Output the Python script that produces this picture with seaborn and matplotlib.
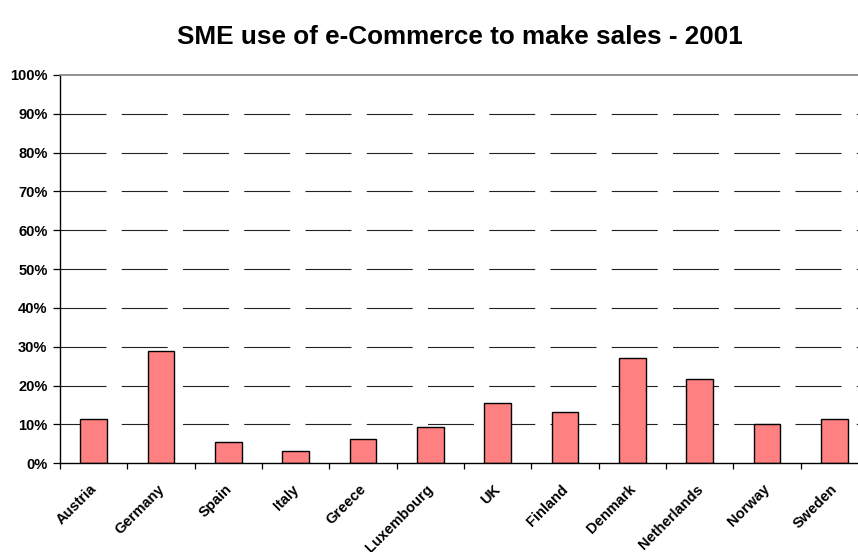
import matplotlib
matplotlib.use("Agg")
import matplotlib.pyplot as plt
import matplotlib.transforms as mtransforms
import seaborn as sns
import pandas as pd
from matplotlib.ticker import FixedLocator, PercentFormatter

countries = ["Austria", "Germany", "Spain", "Italy", "Greece", "Luxembourg",
             "UK", "Finland", "Denmark", "Netherlands", "Norway", "Sweden"]
share_pct = [11.3, 29.0, 5.6, 3.2, 6.3, 9.3, 15.5, 13.1, 27.1, 21.8, 10.0, 11.3]
y_ticks = [0, 10, 20, 30, 40, 50, 60, 70, 80, 90, 100]

df = pd.DataFrame({"country": countries, "share": share_pct})

sns.set_theme(style="white")
plt.rcParams["font.family"] = ["Liberation Sans", "DejaVu Sans"]
plt.rcParams["lines.scale_dashes"] = False
plt.rcParams["text.color"] = "black"
plt.rcParams["xtick.color"] = "black"
plt.rcParams["ytick.color"] = "black"
plt.rcParams["xtick.labelcolor"] = "black"
plt.rcParams["ytick.labelcolor"] = "black"

fig = plt.figure(figsize=(8.58, 5.52), dpi=100)
ax = fig.add_axes([60 / 858, 88.7 / 552, 808 / 858, 388.3 / 552])

# dashed horizontal gridlines below the bars
for t in y_ticks[1:-1]:
    ax.axhline(t, color="#222222", lw=0.8, linestyle=(0, (33.1, 11.0)), zorder=0)

sns.barplot(data=df, x="country", y="share", color="#FF8080", saturation=1,
            width=0.4, edgecolor="black", linewidth=1.0, ax=ax, zorder=2)

ax.set_xlim(-0.5, len(countries) - 0.5)
ax.set_ylim(0, 100)
ax.set_yticks(y_ticks)
ax.yaxis.set_major_formatter(PercentFormatter(decimals=0))
ax.set_xlabel("")
ax.set_ylabel("")

ax.xaxis.set_minor_locator(FixedLocator([i - 0.5 for i in range(len(countries) + 1)]))
ax.tick_params(axis="x", which="major", length=0, pad=13.5)
ax.tick_params(axis="x", which="minor", length=4, width=0.9, color="black",
               direction="out", bottom=True)
ax.tick_params(axis="y", which="major", length=5, width=0.9, color="black",
               direction="out", left=True, pad=4)

shift = mtransforms.ScaledTranslation(-4 / 100, 0, fig.dpi_scale_trans)
for lbl in ax.get_xticklabels():
    lbl.set_rotation(45)
    lbl.set_ha("right")
    lbl.set_va("top")
    lbl.set_rotation_mode("anchor")
    lbl.set_fontsize(10.5)
    lbl.set_fontweight("bold")
    lbl.set_color("black")
    lbl.set_transform(lbl.get_transform() + shift)
for lbl in ax.get_yticklabels():
    lbl.set_fontsize(10.5)
    lbl.set_fontweight("bold")
    lbl.set_color("black")

for side in ["left", "bottom"]:
    ax.spines[side].set_color("black")
    ax.spines[side].set_linewidth(1.0)
ax.spines["right"].set_visible(False)
ax.spines["top"].set_color("#808080")
ax.spines["top"].set_linewidth(1.2)

fig.text(460 / 858, 1 - 37 / 552, "SME use of e-Commerce to make sales - 2001",
         ha="center", va="center", fontsize=18.8, fontweight="bold", color="black")

fig.savefig("out.png", dpi=100)
